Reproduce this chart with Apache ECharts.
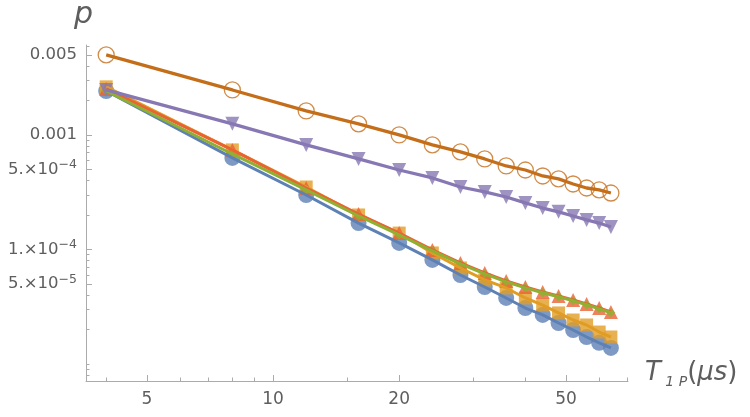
<!DOCTYPE html>
<html>
<head>
<meta charset="utf-8">
<script src="https://cdn.jsdelivr.net/npm/echarts@6/dist/echarts.min.js"></script>
<style>
  html, body { margin: 0; padding: 0; background: #fff; }
  #chart { width: 750px; height: 417px; }
</style>
</head>
<body>
<div id="chart"></div>
<script>
// T1P in microseconds
var tValues = [4, 8, 12, 16, 20, 24, 28, 32, 36, 40, 44, 48, 52, 56, 60, 64]

// p values, one array per marker set
var pCircle = [2.42e-3, 6.3e-4, 2.99e-4, 1.70e-4, 1.14e-4, 8.1e-5, 5.98e-5, 4.7e-5,
  3.77e-5, 3.08e-5, 2.68e-5, 2.28e-5, 1.98e-5, 1.72e-5, 1.53e-5, 1.38e-5]
var pSquare = [2.63e-3, 7.4e-4, 3.51e-4, 2.0e-4, 1.39e-4, 9.32e-5, 6.89e-5, 5.42e-5,
  4.61e-5, 3.77e-5, 3.27e-5, 2.79e-5, 2.42e-5, 2.19e-5, 1.90e-5, 1.72e-5]
var pDiamond = [2.42e-3, 6.82e-4, 3.31e-4, 1.96e-4, 1.34e-4, 9.72e-5, 7.49e-5, 6.13e-5,
  5.22e-5, 4.62e-5, 4.19e-5, 3.86e-5, 3.56e-5, 3.29e-5, 3.03e-5, 2.80e-5]
var pTriangle = [2.52e-3, 7.4e-4, 3.44e-4, 2.04e-4, 1.39e-4, 9.9e-5, 7.62e-5, 6.24e-5,
  5.31e-5, 4.70e-5, 4.26e-5, 3.93e-5, 3.62e-5, 3.34e-5, 3.08e-5, 2.85e-5]
var pDown = [2.47e-3, 1.25e-3, 8.18e-4, 6.17e-4, 4.94e-4, 4.21e-4, 3.51e-4, 3.18e-4,
  2.87e-4, 2.55e-4, 2.30e-4, 2.13e-4, 1.96e-4, 1.81e-4, 1.70e-4, 1.57e-4]
var pOpen = [5.0e-3, 2.47e-3, 1.62e-3, 1.25e-3, 1.0e-3, 8.18e-4, 7.11e-4, 6.17e-4,
  5.36e-4, 4.94e-4, 4.38e-4, 4.13e-4, 3.73e-4, 3.44e-4, 3.31e-4, 3.11e-4]

// ticks
var xMajorTicks = [5, 10, 20, 50]
var xTickLabels = ['5', '10', '20', '50']
var xMinorTicks = [4, 6, 7, 8, 9, 15, 30, 40, 60, 70]
var yMajorTicks = [0.005, 0.001, 5e-4, 1e-4, 5e-5]
var yTickLabels = ['0.005', '0.001', '5.×10{sup|−4}', '1.×10{sup|−4}', '5.×10{sup|−5}']
var yMinorTicks = [0.006, 0.004, 0.003, 0.002, 9e-4, 8e-4, 7e-4, 6e-4, 4e-4, 3e-4, 2e-4,
  9e-5, 8e-5, 7e-5, 6e-5, 4e-5, 3e-5, 2e-5, 1e-5, 9e-6, 8e-6]

var lg = Math.log10
var axisColor = '#ababab'
var textColor = '#5e5e5e'
var font = 'DejaVu Sans'

function pairs (ys) {
  return tValues.map(function (t, i) { return [lg(t), lg(ys[i])] })
}
function findLabel (v, ticks, labels) {
  for (var i = 0; i < ticks.length; i++) {
    if (Math.abs(lg(ticks[i]) - v) < 1e-6) return labels[i]
  }
  return ''
}

var sets = [
  { data: pCircle, color: '#5e81b5', symbol: 'circle', size: 16 },
  { data: pSquare, color: '#e19c24', symbol: 'rect', size: 13 },
  { data: pTriangle, color: '#eb6235', symbol: 'triangle', size: 14 },
  { data: pDiamond, color: '#8fb032', symbol: 'diamond', size: 9 },
  { data: pDown, color: '#8778b3', symbol: 'triangle', size: 14, rotate: 180 },
  { data: pOpen, color: '#c56e1a', symbol: 'circle', size: 16, open: true }
]

var seriesArr = []
sets.forEach(function (s) {
  seriesArr.push({
    type: 'scatter',
    data: pairs(s.data),
    symbol: s.symbol,
    symbolSize: s.size,
    symbolRotate: s.rotate || 0,
    itemStyle: s.open
      ? { color: 'rgba(0,0,0,0)', borderColor: s.color, borderWidth: 1.3 }
      : { color: s.color },
    z: 2
  })
})
sets.forEach(function (s) {
  seriesArr.push({
    type: 'line',
    data: pairs(s.data),
    showSymbol: false,
    lineStyle: { color: s.color, width: s.open || s.rotate ? 3.3 : 3 },
    z: 3
  })
})

function xAxisOf (major) {
  return {
    type: 'value',
    position: 'bottom',
    min: lg(3.58),
    max: lg(70.3),
    axisLine: { show: major, lineStyle: { color: axisColor, width: 1 } },
    axisTick: {
      inside: true,
      length: major ? 6 : 3.5,
      customValues: (major ? xMajorTicks : xMinorTicks).map(lg),
      lineStyle: { color: axisColor }
    },
    axisLabel: {
      show: major,
      customValues: xMajorTicks.map(lg),
      margin: 10,
      color: textColor,
      fontFamily: font,
      fontSize: 17,
      formatter: function (v) { return findLabel(v, xMajorTicks, xTickLabels) }
    },
    splitLine: { show: false }
  }
}

function yAxisOf (major) {
  return {
    type: 'value',
    position: 'left',
    min: lg(7.1e-6),
    max: lg(6.1e-3),
    axisLine: { show: major, lineStyle: { color: axisColor, width: 1 } },
    axisTick: {
      inside: true,
      length: major ? 6 : 3.5,
      customValues: (major ? yMajorTicks : yMinorTicks).map(lg),
      lineStyle: { color: axisColor }
    },
    axisLabel: {
      show: major,
      customValues: yMajorTicks.map(lg),
      margin: 9,
      color: textColor,
      fontFamily: font,
      fontSize: 16.5,
      lineHeight: 22,
      formatter: function (v) { return findLabel(v, yMajorTicks, yTickLabels) },
      rich: {
        sup: { fontSize: 12.5, fontFamily: font, color: textColor, lineHeight: 11, verticalAlign: 'top' }
      }
    },
    splitLine: { show: false }
  }
}

var myChart = echarts.init(document.getElementById('chart'))
myChart.setOption({
  animation: false,
  backgroundColor: '#fff',
  grid: { left: 86, right: 122, top: 45, bottom: 36 },
  xAxis: [xAxisOf(true), xAxisOf(false)],
  yAxis: [yAxisOf(true), yAxisOf(false)],
  series: seriesArr,
  graphic: [
    {
      type: 'text',
      left: 74,
      top: 0,
      style: { text: 'p', font: 'italic 30px "DejaVu Sans"', fill: textColor }
    },
    {
      type: 'text',
      left: 645,
      top: 360,
      style: {
        text: '{t|T}{s| 1 P}{n|(}{t|μs}{n|)}',
        fill: textColor,
        rich: {
          t: { fontSize: 26, fontStyle: 'italic', fontFamily: font, fill: textColor, lineHeight: 32 },
          s: { fontSize: 14, fontStyle: 'italic', fontFamily: font, fill: textColor, lineHeight: 24, verticalAlign: 'bottom' },
          n: { fontSize: 26, fontFamily: font, fill: textColor, lineHeight: 32 }
        }
      }
    }
  ]
})
</script>
</body>
</html>
